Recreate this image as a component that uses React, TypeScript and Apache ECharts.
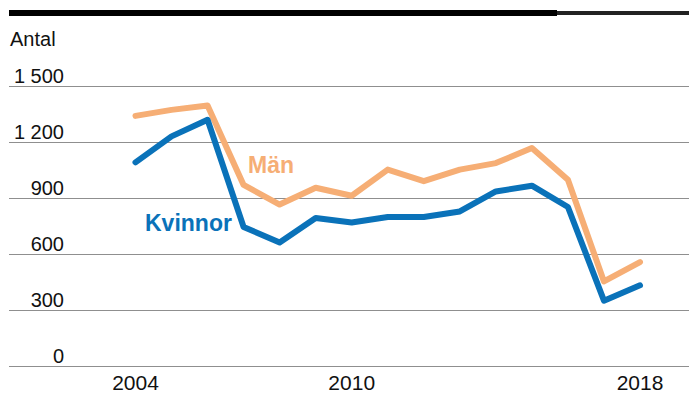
import React, { useEffect, useRef } from "react";
import * as echarts from "echarts";

const years = [2004, 2005, 2006, 2007, 2008, 2009, 2010, 2011, 2012, 2013, 2014, 2015, 2016, 2017, 2018];
const man = [1340, 1372, 1395, 970, 865, 955, 912, 1052, 990, 1052, 1087, 1168, 998, 453, 557];
const kvinnor = [1091, 1230, 1319, 745, 662, 793, 769, 798, 798, 828, 935, 966, 852, 350, 432];
const xTickLabels = [2004, 2010, 2018];
const yTicks = [0, 300, 600, 900, 1200, 1500];

const ORANGE = "#F6AE75";
const BLUE = "#0A72B9";
const FONT = "'Liberation Sans', Arial, Helvetica, sans-serif";

export default function App() {
  const ref = useRef<HTMLDivElement>(null);
  useEffect(() => {
    if (!ref.current) return;
    const chart = echarts.init(ref.current, undefined, { renderer: "svg" });
    const fmt = (v: number) => (v >= 1000 ? String(v).replace(/(\d)(\d{3})$/, "$1 $2") : String(v));
    chart.setOption({
      animation: false,
      textStyle: { fontFamily: FONT },
      grid: { left: 9, right: 0, top: 86, bottom: 35, containLabel: false },
      xAxis: {
        type: "value",
        min: 2000.49,
        max: 2019.36,
        axisLine: { show: false },
        axisTick: { show: false },
        splitLine: { show: false },
        axisLabel: {
          customValues: xTickLabels,
          color: "#111",
          fontSize: 21,
          fontFamily: FONT,
          margin: 6,
          formatter: (v: number) => String(v),
        },
      },
      yAxis: {
        type: "value",
        min: 0,
        max: yTicks[yTicks.length - 1],
        interval: 300,
        axisLine: { show: false },
        axisTick: { show: false },
        splitLine: { show: true, lineStyle: { color: "#8f8f8f", width: 1 } },
        axisLabel: {
          inside: true,
          align: "right",
          margin: 55,
          verticalAlign: "bottom",
          lineHeight: 21,
          color: "#111",
          fontSize: 20,
          fontFamily: FONT,
          formatter: (v: number) => fmt(v),
        },
      },
      graphic: [
        { type: "rect", shape: { x: 9, y: 10, width: 548, height: 6 }, style: { fill: "#000" } },
        { type: "rect", shape: { x: 557, y: 11, width: 132, height: 4 }, style: { fill: "#222" } },
        {
          type: "text",
          x: 10,
          y: 39,
          style: { text: "Antal", fontSize: 20, fontFamily: FONT, fill: "#111", verticalAlign: "middle" },
        },
        {
          type: "text",
          x: 248,
          y: 165,
          style: { text: "Män", fontSize: 23, fontWeight: "bold", fontFamily: FONT, fill: ORANGE, verticalAlign: "middle" },
        },
        {
          type: "text",
          x: 145,
          y: 222.5,
          style: { text: "Kvinnor", fontSize: 23, fontWeight: "bold", fontFamily: FONT, fill: BLUE, verticalAlign: "middle" },
        },
      ],
      series: [
        {
          name: "Män",
          type: "line",
          data: years.map((y, i) => [y, man[i]]),
          showSymbol: false,
          lineStyle: { color: ORANGE, width: 6, cap: "round", join: "round" },
          itemStyle: { color: ORANGE },
        },
        {
          name: "Kvinnor",
          type: "line",
          data: years.map((y, i) => [y, kvinnor[i]]),
          showSymbol: false,
          lineStyle: { color: BLUE, width: 6, cap: "round", join: "round" },
          itemStyle: { color: BLUE },
        },
      ],
    });
    return () => chart.dispose();
  }, []);
  return (
    <div
      ref={ref}
      style={{ position: "fixed", left: 0, top: 0, width: 689, height: 401, background: "#fff" }}
    />
  );
}
